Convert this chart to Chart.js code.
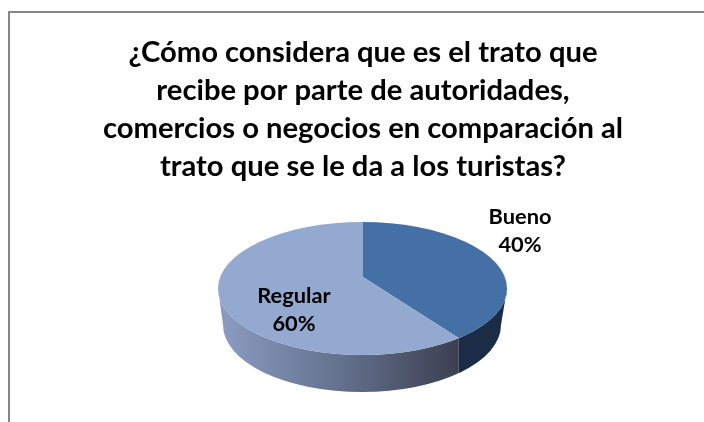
<!DOCTYPE html>
<html>
<head>
<meta charset="utf-8">
<style>html,body{margin:0;padding:0;background:#fff}#w{width:704px;height:422px}canvas{display:block}</style>
<script src="https://cdn.jsdelivr.net/npm/chart.js@4/dist/chart.umd.min.js"></script>
</head>
<body>
<div id="w"><canvas id="c" width="704" height="422"></canvas></div>
<script>
const categories = ["Bueno", "Regular"];
const values = [40, 60];
const percentLabels = ["40%", "60%"];
const titleLines = [
  "¿Cómo considera que es el trato que",
  "recibe por parte de autoridades,",
  "comercios o negocios en comparación al",
  "trato que se le da a los turistas?"
];
const topColors = ["#4470A6", "#93A9D0"];

// projection of the flat pie onto the tilted disc
const apex = {x: 363, y: 277};
const rim = {x: 362.5, y: 288.5, rx: 144.5, ry: 66.5};
const foot = {x: 362, y: 325, rx: 139, ry: 67};
const tilt = 0.464;
const reach = 190;

function rimHit(angle) {
  const dx = Math.cos(angle), dy = Math.sin(angle) * tilt;
  const ox = apex.x - rim.x, oy = apex.y - rim.y;
  const a = dx*dx/(rim.rx*rim.rx) + dy*dy/(rim.ry*rim.ry);
  const b = 2*(ox*dx/(rim.rx*rim.rx) + oy*dy/(rim.ry*rim.ry));
  const c = ox*ox/(rim.rx*rim.rx) + oy*oy/(rim.ry*rim.ry) - 1;
  const t = (-b + Math.sqrt(b*b - 4*a*c)) / (2*a);
  return {x: apex.x + dx*t, y: apex.y + dy*t};
}

const tiltedPie = {
  id: "tiltedPie",
  beforeDraw(chart) {
    const ctx = chart.ctx;
    ctx.save();
    ctx.fillStyle = "#fff";
    ctx.fillRect(0, 0, chart.width, chart.height);
    ctx.strokeStyle = "#868686";
    ctx.lineWidth = 2;
    ctx.beginPath();
    ctx.moveTo(9, chart.height);
    ctx.lineTo(9, 12);
    ctx.lineTo(chart.width, 12);
    ctx.stroke();
    ctx.restore();
  },
  beforeDatasetsDraw(chart) {
    const ctx = chart.ctx;
    const arcs = chart.getDatasetMeta(0).data;
    const split = rimHit(arcs[0].endAngle).x;
    const wall = () => {
      ctx.beginPath();
      ctx.ellipse(rim.x, rim.y, rim.rx, rim.ry, 0, 0, Math.PI);
      ctx.ellipse(foot.x, foot.y, foot.rx, foot.ry, 0, Math.PI, 0, true);
      ctx.closePath();
    };
    const g = ctx.createLinearGradient(rim.x - rim.rx, 0, split, 0);
    g.addColorStop(0, "#8C9DC2");
    g.addColorStop(0.5, "#64728F");
    g.addColorStop(1, "#3C3F50");
    ctx.save();
    ctx.beginPath();
    ctx.rect(0, 0, split, chart.height);
    ctx.clip();
    wall();
    ctx.fillStyle = g;
    ctx.fill();
    ctx.restore();
    ctx.save();
    ctx.beginPath();
    ctx.rect(split, 0, chart.width - split, chart.height);
    ctx.clip();
    wall();
    ctx.fillStyle = "#1B2C46";
    ctx.fill();
    ctx.restore();

    const a = arcs[0];
    const k = reach / a.outerRadius;
    ctx.save();
    ctx.beginPath();
    ctx.ellipse(rim.x, rim.y, rim.rx, rim.ry, 0, 0, Math.PI * 2);
    ctx.clip();
    ctx.translate(apex.x, apex.y);
    ctx.scale(k, k * tilt);
    ctx.translate(-a.x, -a.y);
  },
  afterDatasetsDraw(chart) {
    chart.ctx.restore();
  },
  afterDraw(chart) {
    const ctx = chart.ctx;
    const spots = [{x: 520, y: 217}, {x: 294, y: 296}];
    ctx.save();
    ctx.fillStyle = "#000";
    ctx.font = "bold 21.8px Lato";
    ctx.textAlign = "center";
    ctx.textBaseline = "middle";
    categories.forEach((name, i) => {
      ctx.fillText(name, spots[i].x, spots[i].y);
      ctx.fillText(percentLabels[i], spots[i].x, spots[i].y + 28);
    });
    ctx.restore();
  }
};

new Chart(document.getElementById("c"), {
  type: "pie",
  data: {
    labels: categories,
    datasets: [{data: values, backgroundColor: topColors, borderWidth: 0}]
  },
  plugins: [tiltedPie],
  options: {
    responsive: false,
    animation: false,
    layout: {padding: {left: 22, right: 0, top: 0, bottom: 58}},
    plugins: {
      legend: {display: false},
      tooltip: {enabled: false},
      title: {
        display: true,
        text: titleLines,
        color: "#000",
        font: {family: "Lato", size: 29.2, weight: "bold", lineHeight: 1.31},
        padding: {top: 33, bottom: 8}
      }
    }
  }
});
</script>
</body>
</html>
